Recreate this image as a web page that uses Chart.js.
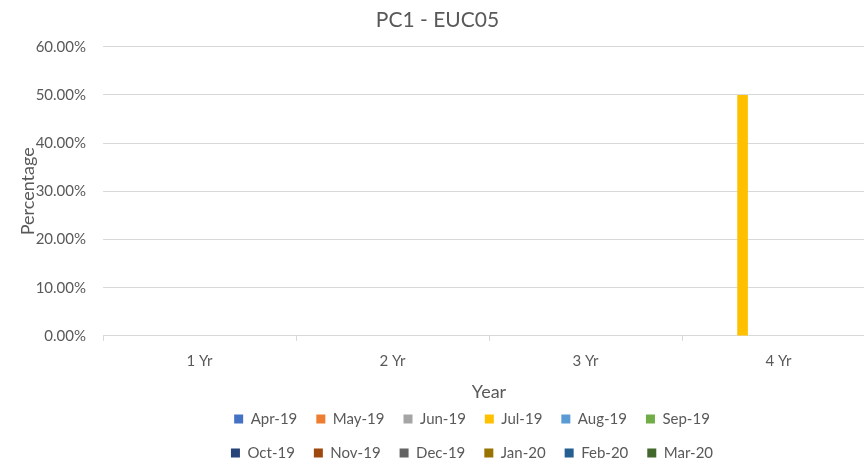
<!DOCTYPE html>
<html>
<head>
<meta charset="utf-8">
<script src="https://cdn.jsdelivr.net/npm/chart.js@4"></script>
<style>
  html, body { margin: 0; padding: 0; background: #ffffff; overflow: hidden; }
  #wrap { width: 920px; height: 463px; }
</style>
</head>
<body>
<div id="wrap"><canvas id="c" width="920" height="463"></canvas></div>
<script>
const chartTitle = 'PC1 - EUC05';
const categories = ['1 Yr', '2 Yr', '3 Yr', '4 Yr'];
const seriesNames = ['Apr-19', 'May-19', 'Jun-19', 'Jul-19', 'Aug-19', 'Sep-19',
                     'Oct-19', 'Nov-19', 'Dec-19', 'Jan-20', 'Feb-20', 'Mar-20'];
const seriesColors = ['#4472C4', '#ED7D31', '#A5A5A5', '#FFC000', '#5B9BD5', '#70AD47',
                      '#264478', '#9E480E', '#636363', '#997300', '#255E91', '#43682B'];
// values in percent, one array per series (1 Yr, 2 Yr, 3 Yr, 4 Yr)
const apr19 = [0, 0, 0, 0];
const may19 = [0, 0, 0, 0];
const jun19 = [0, 0, 0, 0];
const jul19 = [0, 0, 0, 50];
const aug19 = [0, 0, 0, 0];
const sep19 = [0, 0, 0, 0];
const oct19 = [0, 0, 0, 0];
const nov19 = [0, 0, 0, 0];
const dec19 = [0, 0, 0, 0];
const jan20 = [0, 0, 0, 0];
const feb20 = [0, 0, 0, 0];
const mar20 = [0, 0, 0, 0];
const seriesValues = [apr19, may19, jun19, jul19, aug19, sep19, oct19, nov19, dec19, jan20, feb20, mar20];
const yTickMin = 0, yTickMax = 60, yTickStep = 10;
const xAxisTitle = 'Year';
const yAxisTitle = 'Percentage';

const TEXT = '#595959';
const GRID = '#d9d9d9';
const LEGEND_W = 560;

Chart.defaults.font.family = 'Lato, "Open Sans", sans-serif';
Chart.defaults.color = TEXT;

const twoRowLegend = {
  id: 'twoRowLegend',
  afterInit(chart) {
    const lg = chart.legend;
    if (!lg) return;
    const origFit = lg.fit;
    lg.fit = function () {
      const mw = this.maxWidth;
      this.maxWidth = LEGEND_W;
      origFit.call(this);
      this.maxWidth = mw;
      this.width = mw;
    };
  },
  afterLayout(chart) {
    const lg = chart.legend;
    if (!lg) return;
    const cx = chart.width / 2 + 12;
    lg.left = cx - LEGEND_W / 2;
    lg.right = cx + LEGEND_W / 2;
    lg.width = LEGEND_W;
  }
};

const datasets = seriesNames.map((name, i) => ({
  label: name,
  data: seriesValues[i],
  backgroundColor: seriesColors[i],
  borderWidth: 0,
  categoryPercentage: 0.894,
  barPercentage: 0.74
}));

new Chart(document.getElementById('c'), {
  type: 'bar',
  data: { labels: categories, datasets },
  plugins: [twoRowLegend],
  options: {
    responsive: false,
    animation: false,
    devicePixelRatio: 1,
    layout: { padding: { left: 0, right: 45, top: 0, bottom: -7.5 } },
    plugins: {
      title: {
        display: true,
        text: chartTitle,
        color: TEXT,
        font: { size: 21, weight: 'normal' },
        padding: { top: 7.4, bottom: 14.1 }
      },
      legend: {
        display: true,
        position: 'bottom',
        labels: {
          boxWidth: 9,
          boxHeight: 9,
          padding: 19,
          color: TEXT,
          font: { size: 15 }
        }
      },
      tooltip: { enabled: false }
    },
    scales: {
      x: {
        grid: {
          display: true,
          offset: true,
          drawOnChartArea: false,
          drawTicks: true,
          tickLength: 5,
          color: GRID
        },
        border: { display: true, color: GRID },
        ticks: { color: TEXT, font: { size: 15 }, padding: 11 },
        title: {
          display: true,
          text: xAxisTitle,
          color: TEXT,
          font: { size: 18 },
          padding: { top: 0, bottom: -10 }
        }
      },
      y: {
        min: yTickMin,
        max: yTickMax,
        grid: { color: GRID, drawTicks: false },
        border: { display: false },
        ticks: {
          stepSize: yTickStep,
          color: TEXT,
          font: { size: 15 },
          padding: 17,
          callback: v => Number(v).toFixed(2) + '%'
        },
        title: {
          display: true,
          text: yAxisTitle,
          color: TEXT,
          font: { size: 18 },
          padding: { top: 17.2, bottom: 0 }
        },
        afterFit(scale) { scale.width = 103; }
      }
    }
  }
});
</script>
</body>
</html>
